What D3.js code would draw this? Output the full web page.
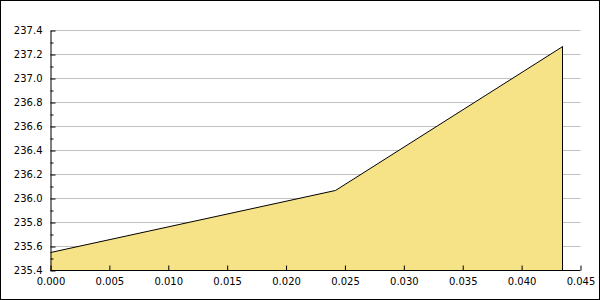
<!DOCTYPE html>
<html><head><meta charset="utf-8">
<script src="https://cdn.jsdelivr.net/npm/d3@7"></script>
<style>body{margin:0;background:#fff}svg{display:block}</style>
</head><body>
<script>
const xValues = [0.0, 0.0242, 0.0435];
const yValues = [235.55, 236.067, 237.267];
const xTicks = [0, 0.005, 0.01, 0.015, 0.02, 0.025, 0.03, 0.035, 0.04, 0.045];
const yMajorTicks = [235.4, 235.6, 235.8, 236.0, 236.2, 236.4, 236.6, 236.8, 237.0, 237.2, 237.4];
const yMinorTicks = [235.5, 235.7, 235.9, 236.1, 236.3, 236.5, 236.7, 236.9, 237.1, 237.3];

const W = 600, H = 300;
const svg = d3.select("body").append("svg").attr("width", W).attr("height", H);
svg.append("rect").attr("x",0.5).attr("y",0.5).attr("width",W-1).attr("height",H-1)
  .attr("fill","#fff").attr("stroke","#000");

const x = d3.scaleLinear().domain([0, 0.045]).range([50.5, 580.5]);
const y = d3.scaleLinear().domain([235.4, 237.4]).range([270.5, 30.5]);

// grid
svg.append("g").selectAll("line").data(yMajorTicks.slice(1)).join("line")
  .attr("x1", 50.5).attr("x2", 580.5)
  .attr("y1", d => y(d)).attr("y2", d => y(d))
  .attr("stroke", "#c0c0c0");

const data = xValues.map((v,i)=>[v, yValues[i]]);
const area = d3.area().x(d=>x(d[0])).y0(y(235.4)).y1(d=>y(d[1]));
svg.append("path").datum(data).attr("d", area).attr("fill", "#f6e287").attr("stroke","none");
const line = d3.line().x(d=>x(d[0])).y(d=>y(d[1]));
svg.append("path").datum(data).attr("d", line).attr("fill","none").attr("stroke","#000").attr("stroke-width",1);
const xe = Math.round(x(xValues[xValues.length-1]) - 0.5) + 0.5;
svg.append("line").attr("x1", xe).attr("x2", xe)
  .attr("y1", y(yValues[yValues.length-1])).attr("y2", y(235.4)).attr("stroke","#000");

// axes
const fmtY = d3.format(".1f"), fmtX = d3.format(".3f");
const gy = svg.append("g").attr("transform","translate(50.5,0)")
  .call(d3.axisLeft(y).tickValues(yMajorTicks).tickFormat(fmtY).tickSizeInner(-5).tickSizeOuter(0).tickPadding(8));
const gyMinor = svg.append("g").attr("transform","translate(50.5,0)")
  .call(d3.axisLeft(y).tickValues(yMinorTicks).tickFormat("").tickSizeInner(-3).tickSizeOuter(0));
gyMinor.select(".domain").remove();
const gx = svg.append("g").attr("transform","translate(0,270.5)")
  .call(d3.axisBottom(x).tickValues(xTicks).tickFormat(fmtX).tickSizeInner(-5).tickSizeOuter(0).tickPadding(7));
gx.select(".domain").attr("d", "M50.5,0H580.5");
svg.selectAll(".tick text").attr("font-family","DejaVu Sans").attr("font-size","10px").attr("fill","#000");
svg.selectAll(".domain, .tick line").attr("stroke","#000");
</script>
</body></html>
